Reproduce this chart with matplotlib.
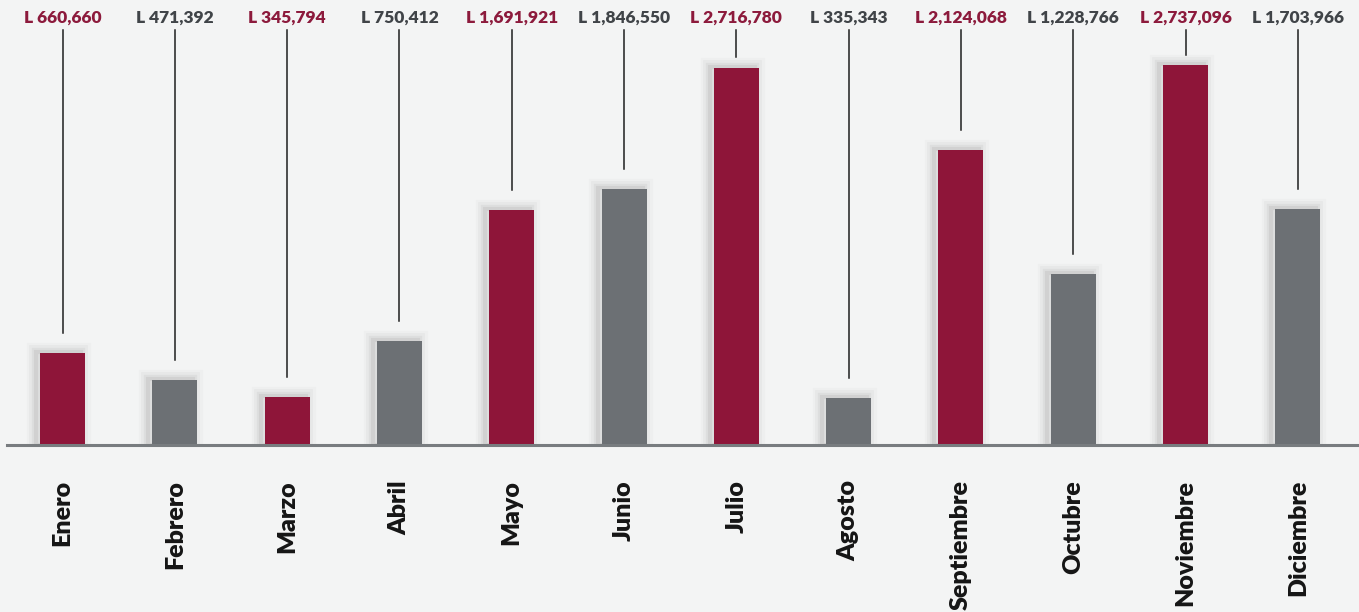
import numpy as np
import matplotlib
matplotlib.use('Agg')
import matplotlib.pyplot as plt

# ── Data ──────────────────────────────────────────────────────────────────────
MONTHS = ['Enero', 'Febrero', 'Marzo', 'Abril', 'Mayo', 'Junio',
          'Julio', 'Agosto', 'Septiembre', 'Octubre', 'Noviembre', 'Diciembre']
VALUES = [660660, 471392, 345794, 750412, 1691921, 1846550,
          2716780, 335343, 2124068, 1228766, 2737096, 1703966]
LABELS = ['L 660,660', 'L 471,392', 'L 345,794', 'L 750,412', 'L 1,691,921',
          'L 1,846,550', 'L 2,716,780', 'L 335,343', 'L 2,124,068',
          'L 1,228,766', 'L 2,737,096', 'L 1,703,966']

# ── Style ─────────────────────────────────────────────────────────────────────
MAROON     = '#8e1539'
GRAY       = '#6c7074'
TXT_MAROON = '#8c1a3c'
TXT_GRAY   = '#404448'
BG         = '#f3f4f4'

W, H, DPI = 1359, 612, 100
BASE_PX   = 445            # baseline, px from top
UNIT_PX   = 7206.3         # value units per pixel
X0_PX     = 62.5           # first bar centre
STEP_PX   = 112.3          # bar spacing

fig = plt.figure(figsize=(W / DPI, H / DPI), dpi=DPI, facecolor=BG)
ax = fig.add_axes([0, (H - BASE_PX) / H, 1, BASE_PX / H])
ax.set_facecolor(BG)
ax.set_xlim(-X0_PX / STEP_PX, (W - X0_PX) / STEP_PX)
ax.set_ylim(0, BASE_PX * UNIT_PX)
for s in ax.spines.values():
    s.set_visible(False)
ax.set_xticks([])
ax.set_yticks([])

x = np.arange(len(MONTHS))
colors = [MAROON if i % 2 == 0 else GRAY for i in x]
txt_colors = [TXT_MAROON if i % 2 == 0 else TXT_GRAY for i in x]
width = 45 / STEP_PX

# soft drop shadow behind the bars (up-left)
shift = 4 / STEP_PX
for lw, a in [(14, 0.025), (10, 0.035), (6, 0.05), (3, 0.07)]:
    ax.bar(x - shift, np.array(VALUES) + 1 * UNIT_PX, width, color='none',
           edgecolor=(0.2, 0.2, 0.2, a), linewidth=lw, zorder=1)
ax.bar(x, VALUES, width, color=colors, edgecolor='none', zorder=2)

# baseline
ax.axhline(0, xmin=7 / W, xmax=1, color='#787c7f', lw=2.2, zorder=3,
           clip_on=False)

# value labels with leader lines
label_y = (BASE_PX - 18) * UNIT_PX
line_top = (BASE_PX - 30) * UNIT_PX
for xi, v, lab, c in zip(x, VALUES, LABELS, txt_colors):
    ax.text(xi, label_y, lab, ha='center', va='center', color=c,
            fontsize=12.5, fontweight='heavy', family='Lato')
    gap = min(20 * UNIT_PX, 0.3 * (line_top - v))
    ax.plot([xi, xi], [line_top, v + gap], color='#1e1e1e', lw=1.1, zorder=3)

# month labels under the baseline
for xi, m in zip(x, MONTHS):
    ax.text(xi, -35 * UNIT_PX, m, rotation=90, ha='center', va='top',
            fontsize=18, fontweight='heavy', family='Lato', color='#151515',
            clip_on=False)

fig.savefig('out.png', dpi=DPI, facecolor=BG)
